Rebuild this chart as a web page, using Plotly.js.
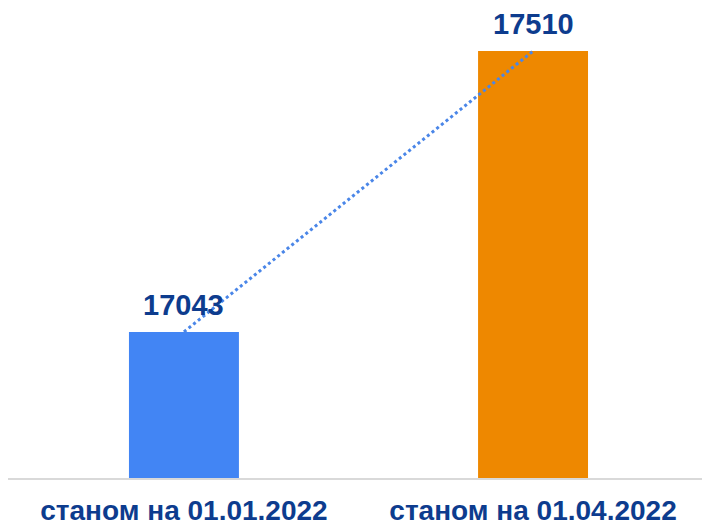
<!DOCTYPE html>
<html>
<head>
<meta charset="utf-8">
<script src="https://cdn.plot.ly/plotly-3.0.1.min.js"></script>
<style>html,body{margin:0;padding:0;background:#fff;}#chart{width:702px;height:527px;}</style>
</head>
<body>
<div id="chart"></div>
<script>
const categories = ["станом на 01.01.2022", "станом на 01.04.2022"];
const values = [17043, 17510];
const barColors = ["#4285f4", "#ee8800"];
const valueLabels = values.map(v => String(v));

const textColor = "#0d3c8e";
const fontFamily = "'Liberation Sans', Arial, sans-serif";

const traces = [
  {
    type: "bar",
    x: categories,
    y: values,
    marker: {color: barColors},
    width: 0.315,
    hoverinfo: "none"
  },
  {
    type: "scatter",
    mode: "lines",
    x: categories,
    y: values,
    line: {color: "#4a86e8", width: 3, dash: "dot"},
    hoverinfo: "none"
  }
];

const annotations = categories.map((c, i) => ({
  x: c, y: values[i], xref: "x", yref: "y",
  text: "<b>" + valueLabels[i] + "</b>",
  showarrow: false, yanchor: "bottom", yshift: 9,
  font: {family: fontFamily, size: 29, color: textColor}
}));

const layout = {
  width: 702, height: 527,
  margin: {l: 8, r: 0, t: 0, b: 49},
  paper_bgcolor: "#fff", plot_bgcolor: "#fff",
  showlegend: false,
  xaxis: {
    type: "category",
    range: [-0.504, 1.484],
    showline: true, linecolor: "#d9d9d9", linewidth: 2,
    ticks: "", showgrid: false, zeroline: false,
    ticklabelstandoff: 6,
    tickfont: {family: fontFamily, size: 28, color: textColor, weight: "bold"},
    fixedrange: true
  },
  yaxis: {
    range: [16800, 17595],
    showticklabels: false, showgrid: false, zeroline: false, showline: false,
    fixedrange: true
  },
  annotations: annotations
};

Plotly.newPlot("chart", traces, layout, {displayModeBar: false, staticPlot: true});
</script>
</body>
</html>
